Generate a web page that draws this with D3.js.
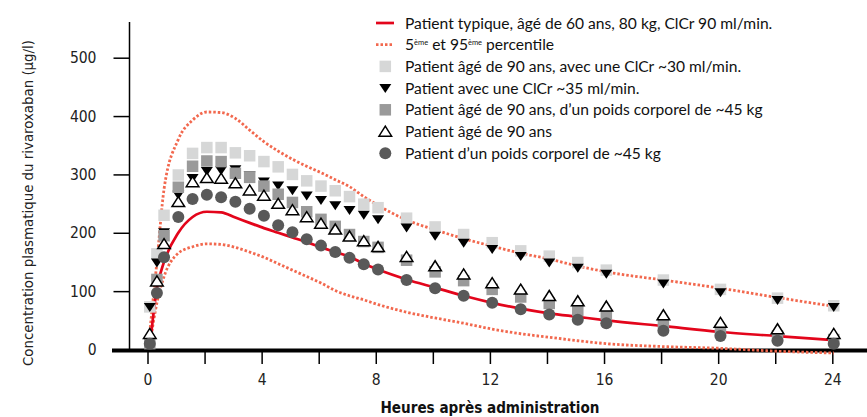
<!DOCTYPE html>
<html><head><meta charset="utf-8">
<script src="https://cdn.jsdelivr.net/npm/d3@7"></script>
<style>
body{margin:0;background:#fff;}
svg{display:block;}
</style></head><body><svg id="chart" width="867" height="417"></svg>
<script>
// ---- data ----
const hours = [0.08, 0.33, 0.58, 1.08, 1.58, 2.08, 2.58, 3.08, 3.58, 4.08, 4.58, 5.08, 5.58, 6.08, 6.58, 7.08, 7.58, 8.08, 9.08, 10.08, 11.08, 12.08, 13.08, 14.08, 15.08, 16.08, 18.08, 20.08, 22.08, 24.05];
const typical = [5, 105, 150, 200, 227, 236, 235, 226, 217, 208, 200, 192, 184, 175, 167, 159, 147, 137, 120, 106, 92, 80, 70, 62, 56, 50, 40, 30, 23, 16];
const p95 = [30, 150, 275, 360, 393, 407, 406, 396, 376, 356, 340, 326, 314, 303, 291, 279, 262, 247, 222, 205, 190, 177, 165, 155, 143, 133, 119, 105, 89, 74];
const p5 = [8, 80, 125, 165, 176, 181, 180, 175, 167, 158, 147, 136, 125, 114, 101, 92, 85, 77, 64, 54, 45, 35, 27, 21, 15, 10, 5, 2, -3, -6];
const age90ClCr30 = [73, 164, 230, 299, 336, 346, 346, 337, 332, 322, 313, 300, 289, 280, 272, 262, 249, 243, 225, 210, 197, 183, 169, 160, 149, 136, 119, 103, 88, 75];
const clcr35 = [73, 149, 201, 265, 294, 306, 307, 309, 298, 288, 281, 273, 264, 256, 247, 239, 231, 223, 209, 195, 183, 172, 160, 149, 140, 130, 113, 98, 85, 73];
const age90Weight45 = [10, 120, 195, 278, 314, 323, 322, 302, 295, 280, 266, 252, 236, 223, 211, 197, 185, 175, 153, 133, 118, 103, 90, 79, 67, 60, 46, 33, 23, 17];
const age90 = [27, 117, 181, 253, 287, 294, 293, 285, 273, 264, 250, 239, 227, 216, 206, 194, 186, 176, 159, 143, 129, 114, 103, 92, 83, 74, 59, 46, 35, 27];
const weight45 = [10, 97, 158, 227, 258, 265, 261, 253, 241, 229, 213, 201, 189, 178, 167, 157, 146, 137, 119, 105, 92, 80, 69, 60, 51, 45, 32, 23, 15, 10];

const xTicks = [0, 2, 4, 6, 8, 10, 12, 14, 16, 18, 20, 22, 24];
const xTickLabels = [0, 4, 8, 12, 16, 20, 24];
const yTicks = [0, 100, 200, 300, 400, 500];
const xTitle = "Heures après administration";
const yTitle = "Concentration plasmatique du rivaroxaban (µg/l)";
const legendLabels = [
  "Patient typique, âgé de 60 ans, 80 kg, ClCr 90 ml/min.",
  "5ème et 95ème percentile",
  "Patient âgé de 90 ans, avec une ClCr ~30 ml/min.",
  "Patient avec une ClCr ~35 ml/min.",
  "Patient âgé de 90 ans, d’un poids corporel de ~45 kg",
  "Patient âgé de 90 ans",
  "Patient d’un poids corporel de ~45 kg"
];

// ---- styles ----
const RED = "#e3051b", DOT = "#f2684e", LIGHT = "#d6d7d7", MID = "#9a9a9a", CIRC = "#595959";
const condFont = "'DejaVu Sans Condensed','Liberation Sans Narrow','Liberation Sans',sans-serif";
const legFont = "Lato,'Open Sans',sans-serif";

const svg = d3.select("#chart");
const x = d3.scaleLinear().domain([0, 24]).range([147.5, 832.3]);
const y = d3.scaleLinear().domain([0, 500]).range([349.5, 57.7]);

// y axis
const yAx = svg.append("g").attr("transform", "translate(129.5,0)")
  .call(d3.axisLeft(y).tickValues(yTicks).tickSize(16).tickPadding(17));
yAx.select(".domain").remove();
yAx.selectAll(".tick line").attr("stroke", "#000").attr("stroke-width", 1.5);
yAx.selectAll(".tick text").attr("font-family", condFont).attr("font-size", 15.5).attr("fill", "#222");
svg.append("line").attr("x1", 129.5).attr("x2", 129.5).attr("y1", 22).attr("y2", 350)
  .attr("stroke", "#000").attr("stroke-width", 1.5);

// x axis
const xAx = svg.append("g").attr("transform", "translate(0,351)")
  .call(d3.axisBottom(x).tickValues(xTicks).tickSize(13).tickPadding(10)
    .tickFormat(d => xTickLabels.includes(d) ? d : ""));
xAx.select(".domain").remove();
xAx.selectAll(".tick line").attr("stroke", "#000").attr("stroke-width", 1.5);
xAx.selectAll(".tick text").attr("font-family", condFont).attr("font-size", 15.5).attr("fill", "#222");
svg.append("line").attr("x1", 112).attr("x2", 867).attr("y1", 350.5).attr("y2", 350.5)
  .attr("stroke", "#000").attr("stroke-width", 4);

// titles
svg.append("text").attr("x", 490).attr("y", 413).attr("text-anchor", "middle")
  .attr("font-family", condFont).attr("font-weight", "bold").attr("font-size", 15)
  .attr("textLength", 219).attr("lengthAdjust", "spacingAndGlyphs").attr("fill", "#111")
  .text(xTitle);
svg.append("text").attr("transform", "translate(33,203) rotate(-90)").attr("text-anchor", "middle")
  .attr("font-family", condFont).attr("font-size", 14.5)
  .attr("textLength", 326).attr("lengthAdjust", "spacingAndGlyphs").attr("fill", "#222")
  .text(yTitle);

// lines
const line = d3.line().x((d, i) => x(hours[i])).y(d => y(d)).curve(d3.curveMonotoneX);
[p95, p5].forEach(arr => {
  svg.append("path").attr("d", line(arr)).attr("fill", "none")
    .attr("stroke", DOT).attr("stroke-width", 2.8).attr("stroke-dasharray", "2.5,2");
});
svg.append("path").attr("d", line(typical)).attr("fill", "none")
  .attr("stroke", RED).attr("stroke-width", 2.7);

// marker shapes
const S = 11.5;
const shapes = {
  lightSq: (g, cx, cy) => g.append("rect").attr("x", cx - S / 2).attr("y", cy - S / 2).attr("width", S).attr("height", S).attr("fill", LIGHT),
  darkSq: (g, cx, cy) => g.append("rect").attr("x", cx - S / 2).attr("y", cy - S / 2).attr("width", S).attr("height", S).attr("fill", MID),
  downTri: (g, cx, cy) => g.append("path").attr("d", `M${cx - 6},${cy - 4}L${cx + 6},${cy - 4}L${cx},${cy + 5}Z`).attr("fill", "#000"),
  upTri: (g, cx, cy) => g.append("path").attr("d", `M${cx - 6.3},${cy + 4.7}L${cx + 6.3},${cy + 4.7}L${cx},${cy - 5.3}Z`).attr("fill", "#fff").attr("stroke", "#000").attr("stroke-width", 1.5),
  circ: (g, cx, cy) => g.append("circle").attr("cx", cx).attr("cy", cy).attr("r", 6).attr("fill", CIRC)
};
const seriesList = [
  [age90ClCr30, "lightSq"], [clcr35, "downTri"], [age90Weight45, "darkSq"], [age90, "upTri"], [weight45, "circ"]
];
seriesList.forEach(([vals, kind]) => {
  const g = svg.append("g");
  vals.forEach((v, i) => shapes[kind](g, x(hours[i]), y(v)));
});

// legend
const legRows = [23, 44.7, 66.4, 88.1, 109.8, 131.5, 153.2];
const legKinds = ["red", "dot", "lightSq", "downTri", "darkSq", "upTri", "circ"];
const lg = svg.append("g");
legKinds.forEach((k, i) => {
  const cy = legRows[i], cx = 385.3;
  if (k === "red") lg.append("line").attr("x1", 376).attr("x2", 394).attr("y1", cy).attr("y2", cy).attr("stroke", RED).attr("stroke-width", 2.7);
  else if (k === "dot") lg.append("line").attr("x1", 376).attr("x2", 394).attr("y1", cy).attr("y2", cy).attr("stroke", DOT).attr("stroke-width", 2.8).attr("stroke-dasharray", "2.5,2");
  else shapes[k](lg, cx, cy);
  const t = lg.append("text").attr("x", 405).attr("y", cy + 5.5).attr("font-family", legFont).attr("font-size", 15.6).attr("fill", "#111");
  const label = legendLabels[i];
  if (label.includes("ème")) {
    const parts = label.split("ème");
    parts.forEach((p, j) => {
      t.append("tspan").text(p).attr("dy", j === 0 ? 0 : 5.5);
      if (j < parts.length - 1) t.append("tspan").text("ème").attr("font-size", 7.5).attr("dy", -5.5);
    });
  } else t.text(label);
});
</script></body></html>
